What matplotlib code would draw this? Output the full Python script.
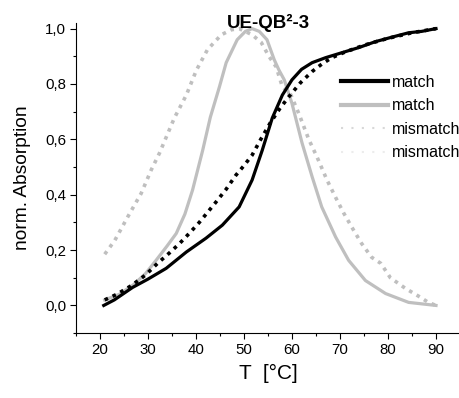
import numpy as np
import matplotlib
matplotlib.use('Agg')
from matplotlib import pyplot as plt
from matplotlib.lines import Line2D
from matplotlib.ticker import MultipleLocator, FuncFormatter

plt.rcParams['font.family'] = ['Liberation Sans', 'DejaVu Sans']

# ---- data ----
match_T = [20.8, 23, 26.8, 30, 33.8, 38, 42.1, 45.5, 49, 51.7, 53.8, 55.9, 58, 60, 62,
           64.2, 67, 70.4, 74, 77.4, 81, 84.3, 87, 90]
match_A = [0.0, 0.02, 0.065, 0.095, 0.134, 0.193, 0.243, 0.29, 0.356, 0.453, 0.56, 0.677,
           0.76, 0.815, 0.853, 0.877, 0.895, 0.913, 0.932, 0.953, 0.97, 0.985, 0.99, 1.0]

mismatch_T = [21, 23.5, 26.6, 29.5, 32, 34.5, 36.6, 38.7, 40.7, 42.5, 44.2, 46.3, 48.3, 50,
              51.7, 53.5, 55.5, 57.5, 59.4, 61.8, 64.2, 66.3, 68.3, 71, 75, 80, 85, 90]
mismatch_A = [0.02, 0.04, 0.072, 0.11, 0.152, 0.19, 0.224, 0.262, 0.30, 0.338, 0.374, 0.42,
              0.47, 0.505, 0.543, 0.6, 0.66, 0.712, 0.755, 0.805, 0.845, 0.873, 0.895, 0.915,
              0.94, 0.965, 0.985, 1.0]

match_deriv_T = [21, 24, 27, 29.5, 31.7, 34, 35.9, 37.7, 39.3, 41.4, 43, 44.9, 46.3, 48.6,
                 50.3, 51.7, 53.2, 54.8, 56.3, 57.3, 58.4, 60, 62.1, 64.2, 66.2, 69.1, 71.8,
                 75.3, 79.5, 84.3, 90]
match_deriv_A = [0.02, 0.04, 0.075, 0.115, 0.163, 0.215, 0.26, 0.33, 0.417, 0.56, 0.68, 0.79,
                 0.877, 0.96, 0.99, 1.0, 0.99, 0.96, 0.888, 0.85, 0.815, 0.73, 0.587, 0.465,
                 0.356, 0.247, 0.163, 0.09, 0.043, 0.011, 0.0]

mismatch_deriv_T = [21, 23.1, 25.8, 28.6, 30.7, 32.4, 35.5, 38, 40.1, 42.4, 45.3, 47.4, 49,
                    51.7, 53.6, 55.2, 56.7, 58, 59.8, 61.5, 63.5, 65.2, 67.3, 69.1, 70.8,
                    72.9, 74.5, 76.6, 78.5, 80.5, 83.6, 86.7, 88.4, 90]
mismatch_deriv_A = [0.185, 0.235, 0.32, 0.405, 0.49, 0.55, 0.677, 0.76, 0.85, 0.924, 0.978,
                    0.996, 1.0, 0.978, 0.95, 0.9, 0.862, 0.79, 0.76, 0.69, 0.6, 0.537, 0.453,
                    0.39, 0.333, 0.27, 0.224, 0.174, 0.152, 0.1, 0.062, 0.03, 0.011, 0.0]

labels = ['match', 'match', 'mismatch', 'mismatch']
BLACK = '#000000'
GREY = '#bfbfbf'

fig = plt.figure(figsize=(4.6, 3.98), dpi=100)
ax = fig.add_axes([0.165, 0.163, 0.835, 0.779])

ax.plot(mismatch_deriv_T, mismatch_deriv_A, color=GREY, lw=2.6, linestyle=(0, (1, 1.4)))
ax.plot(match_deriv_T, match_deriv_A, color=GREY, lw=2.3)
ax.plot(mismatch_T, mismatch_A, color=BLACK, lw=2.6, linestyle=(0, (1, 1.4)))
ax.plot(match_T, match_A, color=BLACK, lw=2.3)

ax.set_xlim(15, 95)
ax.set_ylim(-0.1, 1.02)
ax.xaxis.set_major_locator(MultipleLocator(10))
ax.xaxis.set_minor_locator(MultipleLocator(5))
ax.yaxis.set_major_locator(MultipleLocator(0.2))
ax.yaxis.set_minor_locator(MultipleLocator(0.1))
ax.yaxis.set_major_formatter(FuncFormatter(lambda v, p: ('%.1f' % v).replace('.', ',')))
ax.tick_params(which='major', direction='out', length=4, width=0.8, labelsize=10.8, pad=3)
ax.tick_params(which='minor', direction='out', length=2.5, width=0.8)
ax.spines['top'].set_visible(False)
ax.spines['right'].set_visible(False)

ax.set_xlabel('T  [°C]', fontsize=15, labelpad=5)
ax.set_ylabel('norm. Absorption', fontsize=13.8, labelpad=10)
# title sits inside the top of the axes in the reference
ax.text(0.5, 0.985, 'UE-QB²-3', transform=ax.transAxes, ha='center', va='baseline',
        fontsize=13.5, fontweight='bold')

handles = [Line2D([], [], color=BLACK, lw=3),
           Line2D([], [], color=GREY, lw=3),
           Line2D([], [], color='#d8d8d8', lw=1.5, linestyle=(0, (1, 4))),
           Line2D([], [], color='#ececec', lw=1.5, linestyle=(0, (1, 4)))]
fig.legend(handles, labels, loc='upper left', bbox_to_anchor=(0.742, 0.812), frameon=False,
           fontsize=11.5, handlelength=2.9, handletextpad=0.25, labelspacing=0.53,
           borderaxespad=0, borderpad=0)

fig.savefig('out.png', dpi=100)
